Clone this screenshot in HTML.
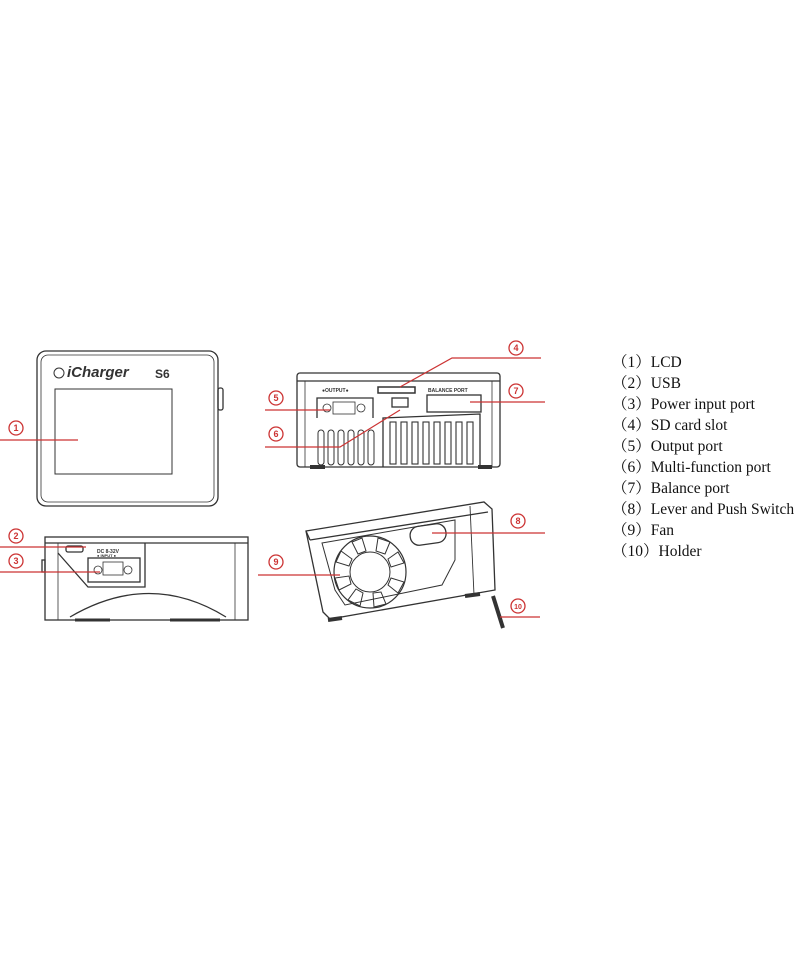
<!DOCTYPE html>
<html><head><meta charset="utf-8"><style>
html,body{margin:0;padding:0;background:#fff;width:800px;height:960px;overflow:hidden}
.list{position:absolute;left:612px;top:352px;font-family:"Liberation Serif","Noto Serif CJK SC",serif;font-size:15.5px;line-height:21px;color:#111}
</style></head><body>
<svg width="800" height="960" style="position:absolute;left:0;top:0" xmlns="http://www.w3.org/2000/svg">
<g fill="none" stroke="#333" stroke-width="1.3">
<rect x="37" y="351" width="181" height="155" rx="9"/>
<rect x="41" y="355" width="173" height="147" rx="7" stroke-width="0.8"/>
<rect x="55" y="389" width="117" height="85" stroke-width="1"/>
<rect x="218" y="388" width="5" height="22" rx="2"/>
<circle cx="59" cy="373" r="5" stroke-width="1"/>
<rect x="45" y="537" width="203" height="83"/>
<line x1="45" y1="543" x2="248" y2="543"/>
<line x1="58" y1="543" x2="58" y2="620" stroke-width="0.8"/>
<line x1="235" y1="543" x2="235" y2="620" stroke-width="0.8"/>
<path d="M58 553 L88 587 L145 587 L145 543"/>
<rect x="88" y="558" width="52" height="24"/>
<rect x="103" y="562" width="20" height="13" stroke-width="0.8"/>
<circle cx="98" cy="570" r="4" stroke-width="0.8"/><circle cx="128" cy="570" r="4" stroke-width="0.8"/>
<rect x="66" y="546" width="17" height="6" rx="2"/>
<path d="M70 617 Q150 570 226 617"/>
<line x1="75" y1="620" x2="110" y2="620" stroke-width="3"/><line x1="170" y1="620" x2="220" y2="620" stroke-width="3"/>
<rect x="42" y="560" width="3" height="12"/>
<rect x="297" y="373" width="203" height="94" rx="3"/>
<line x1="297" y1="381" x2="500" y2="381"/>
<line x1="305" y1="381" x2="305" y2="467" stroke-width="0.8"/>
<line x1="492" y1="381" x2="492" y2="467" stroke-width="0.8"/>
<path d="M317 418 L317 398 L373 398 L373 418"/>
<rect x="333" y="402" width="22" height="12" stroke-width="0.8"/>
<circle cx="327" cy="408" r="4" stroke-width="0.8"/><circle cx="361" cy="408" r="4" stroke-width="0.8"/>
<g stroke-width="1">
<rect x="318" y="430" width="6" height="35" rx="3"/><rect x="328" y="430" width="6" height="35" rx="3"/><rect x="338" y="430" width="6" height="35" rx="3"/><rect x="348" y="430" width="6" height="35" rx="3"/><rect x="358" y="430" width="6" height="35" rx="3"/><rect x="368" y="430" width="6" height="35" rx="3"/>
</g>
<path d="M383 467 L383 418 L480 414 L480 467"/>
<g stroke-width="1.1">
<rect x="390" y="422" width="6" height="42"/><rect x="401" y="422" width="6" height="42"/><rect x="412" y="422" width="6" height="42"/><rect x="423" y="422" width="6" height="42"/><rect x="434" y="422" width="6" height="42"/><rect x="445" y="422" width="6" height="42"/><rect x="456" y="422" width="6" height="42"/><rect x="467" y="422" width="6" height="42"/>
</g>
<rect x="378" y="387" width="37" height="6" stroke-width="1.5"/>
<rect x="392" y="398" width="16" height="9"/>
<rect x="427" y="395" width="54" height="17"/>
<line x1="310" y1="467" x2="325" y2="467" stroke-width="4"/><line x1="478" y1="467" x2="492" y2="467" stroke-width="4"/>
<path d="M306 531 L484 502 L492 509 L495 590 L330 619 L323 612 Z"/>
<line x1="306" y1="531" x2="310" y2="540"/>
<line x1="310" y1="540" x2="488" y2="512"/>
<line x1="470" y1="506" x2="474" y2="595" stroke-width="0.9"/>
<path d="M322 543 L455 520 L455 560 L442 585 L345 605 L335 590 Z" stroke-width="1"/>
<circle cx="370" cy="572" r="36" stroke-width="1.2"/>
<circle cx="370" cy="572" r="20" stroke-width="1"/>
<g stroke-width="1">
<path d="M352 542 L362 538 L366 551 L358 554 Z"/><path d="M378 538 L390 542 L385 554 L376 551 Z"/>
<path d="M398 552 L404 563 L391 567 L388 559 Z"/><path d="M404 582 L398 593 L388 585 L391 578 Z"/>
<path d="M386 604 L374 607 L373 593 L381 592 Z"/><path d="M360 606 L348 600 L356 589 L363 593 Z"/>
<path d="M339 590 L335 578 L349 576 L351 584 Z"/><path d="M336 562 L341 551 L352 559 L349 566 Z"/>
</g>
<rect x="410" y="525" width="36" height="19" rx="9" transform="rotate(-8 428 534)"/>
<line x1="493" y1="596" x2="503" y2="628" stroke-width="4"/>
<line x1="328" y1="620" x2="342" y2="618" stroke-width="4"/><line x1="465" y1="596" x2="480" y2="594" stroke-width="4"/>
</g>
<text x="67" y="377" font-family="Liberation Sans,sans-serif" font-size="15" font-weight="bold" font-style="italic" fill="#333">iCharger</text>
<text x="155" y="378" font-family="Liberation Sans,sans-serif" font-size="12" font-weight="bold" fill="#333">S6</text>
<text x="322" y="392" font-family="Liberation Sans,sans-serif" font-size="5" font-weight="bold" fill="#333">●OUTPUT●</text>
<text x="428" y="392" font-family="Liberation Sans,sans-serif" font-size="5" font-weight="bold" fill="#333">BALANCE PORT</text>
<text x="97" y="553" font-family="Liberation Sans,sans-serif" font-size="5" font-weight="bold" fill="#333">DC 8-32V</text>
<text x="97" y="557" font-family="Liberation Sans,sans-serif" font-size="4" font-weight="bold" fill="#333">● INPUT ●</text>
<g fill="none" stroke="#c33" stroke-width="1.2">
<line x1="0" y1="440" x2="78" y2="440"/>
<line x1="0" y1="547" x2="86" y2="547"/>
<line x1="0" y1="572" x2="100" y2="572"/>
<line x1="265" y1="410" x2="330" y2="410"/>
<polyline points="265,447 340,447 400,410"/>
<polyline points="541,358 452,358 400,387"/>
<line x1="545" y1="402" x2="470" y2="402"/>
<line x1="545" y1="533" x2="432" y2="533"/>
<line x1="258" y1="575" x2="340" y2="575"/>
<line x1="540" y1="617" x2="500" y2="617"/>
</g>
<g fill="#fff" stroke="#c33" stroke-width="1.3">
<circle cx="16" cy="428" r="7"/><circle cx="16" cy="536" r="7"/><circle cx="16" cy="561" r="7"/>
<circle cx="276" cy="398" r="7"/><circle cx="276" cy="434" r="7"/><circle cx="516" cy="348" r="7"/>
<circle cx="516" cy="391" r="7"/><circle cx="518" cy="521" r="7"/><circle cx="276" cy="562" r="7"/><circle cx="518" cy="606" r="7"/>
</g>
<g fill="#c33" font-family="Liberation Sans,sans-serif" font-size="9" font-weight="bold" text-anchor="middle">
<text x="16" y="431">1</text><text x="16" y="539">2</text><text x="16" y="564">3</text>
<text x="276" y="401">5</text><text x="276" y="437">6</text><text x="516" y="351">4</text>
<text x="516" y="394">7</text><text x="518" y="524">8</text><text x="276" y="565">9</text><text x="518" y="609" font-size="7">10</text>
</g>
</svg>
<div class="list">
<div>（1）LCD</div><div>（2）USB</div><div>（3）Power input port</div><div>（4）SD card slot</div><div>（5）Output port</div><div>（6）Multi-function port</div><div>（7）Balance port</div><div>（8）Lever and Push Switch</div><div>（9）Fan</div><div>（10）Holder</div>
</div>
</body></html>
